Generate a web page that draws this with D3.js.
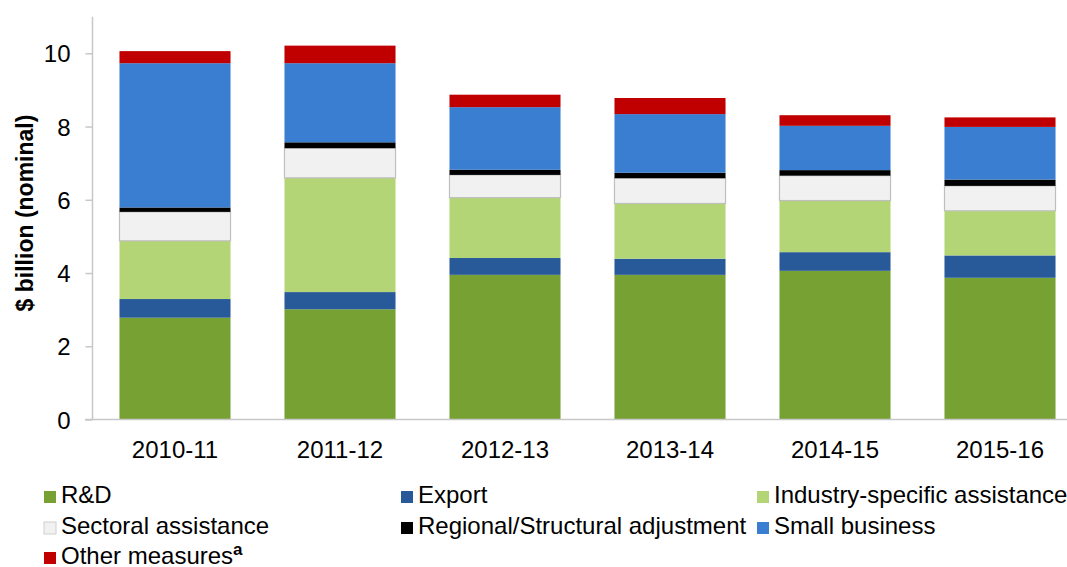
<!DOCTYPE html>
<html lang="en">
<head>
    <meta charset="UTF-8">
    <title>Industry assistance</title>
    <script src="https://d3js.org/d3.v7.min.js"></script>
    <style>
        body { margin: 0; background: #fff; }
        text { font-family: "Liberation Sans", Arial, sans-serif; fill: #000; }
    </style>
</head>
<body>
<script>

    // Categories and series (values in $ billion)
    var years = ["2010-11", "2011-12", "2012-13", "2013-14", "2014-15", "2015-16"];
    var seriesNames = ["R&D", "Export", "Industry-specific assistance", "Sectoral assistance",
                       "Regional/Structural adjustment", "Small business", "Other measures"];

    var rnd       = [2.78, 3.01, 3.95, 3.95, 4.06, 3.87];
    var exportA   = [0.51, 0.47, 0.46, 0.44, 0.51, 0.61];
    var industry  = [1.59, 3.12, 1.65, 1.51, 1.41, 1.22];
    var sectoral  = [0.79, 0.81, 0.62, 0.69, 0.68, 0.68];
    var regional  = [0.12, 0.16, 0.14, 0.15, 0.15, 0.17];
    var smallBiz  = [3.94, 2.16, 1.71, 1.60, 1.21, 1.44];
    var other     = [0.33, 0.48, 0.34, 0.44, 0.29, 0.26];

    var yTicks = [0, 2, 4, 6, 8, 10];

    var colors = ["#77a132", "#285a9a", "#b3d576", "#f1f1f1", "#000000", "#3a7ed1", "#c00000"];

    var seriesValues = [rnd, exportA, industry, sectoral, regional, smallBiz, other];

    // Build rows for d3.stack
    var data = years.map(function(y, i) {
        var row = {year: y};
        seriesNames.forEach(function(s, j) { row[s] = seriesValues[j][i]; });
        return row;
    });

    var width = 1067, height = 567;
    var plot = {left: 92.5, right: 1082.5, top: 16.7, bottom: 419.5};

    var svg = d3.select("body").append("svg")
        .attr("width", width)
        .attr("height", height);

    var x = d3.scaleBand().domain(years).range([plot.left, plot.right]).paddingInner(0.327).paddingOuter(0.1635);
    var y = d3.scaleLinear().domain([0, 11]).range([plot.bottom, plot.top]);

    var stack = d3.stack().keys(seriesNames);
    var layers = stack(data);

    // bars
    svg.append("g").selectAll("g")
        .data(layers)
        .enter().append("g")
        .attr("fill", function(d, i) { return colors[i]; })
        .each(function(layer, i) {
            d3.select(this).selectAll("rect")
                .data(layer)
                .enter().append("rect")
                .attr("x", function(d) { return x(d.data.year); })
                .attr("width", x.bandwidth())
                .attr("y", function(d) { return y(d[1]); })
                .attr("height", function(d) { return y(d[0]) - y(d[1]); })
                .attr("stroke", seriesNames[i] === "Sectoral assistance" ? "#bfbfbf" : "none")
                .attr("stroke-width", 1.2);
        });

    // y axis
    var yAxis = d3.axisLeft(y).tickValues(yTicks).tickSize(7).tickPadding(15);
    var gy = svg.append("g")
        .attr("transform", "translate(" + plot.left + ",0)")
        .call(yAxis);
    gy.select(".domain").attr("stroke", "#c8c8c8").attr("stroke-width", 1.5)
        .attr("d", "M-0," + plot.bottom + "V" + plot.top);
    gy.selectAll(".tick line").attr("stroke", "#c8c8c8").attr("stroke-width", 1.5);
    gy.selectAll(".tick text").style("font-size", "24px").attr("fill", "#000").attr("dy", "0.36em");

    // x axis
    var xAxis = d3.axisBottom(x).tickSize(0).tickPadding(21);
    var gx = svg.append("g")
        .attr("transform", "translate(0," + plot.bottom + ")")
        .call(xAxis);
    gx.select(".domain").attr("stroke", "#c8c8c8").attr("stroke-width", 1.5)
        .attr("d", "M85,0H" + plot.right);
    gx.selectAll(".tick text").style("font-size", "24px").attr("fill", "#000");

    // y title
    svg.append("text")
        .attr("transform", "translate(33,213) rotate(-90)")
        .attr("text-anchor", "middle")
        .style("font-size", "23px")
        .style("font-weight", "bold")
        .text("$ billion (nominal)");

    // legend
    var legendCols = [44, 401, 757];
    var legendRows = [503, 534, 564];
    var legend = svg.append("g").selectAll("g")
        .data(seriesNames)
        .enter().append("g")
        .attr("transform", function(d, i) {
            return "translate(" + legendCols[i % 3] + "," + legendRows[Math.floor(i / 3)] + ")";
        });

    legend.append("rect")
        .attr("x", 0).attr("y", -12)
        .attr("width", 12).attr("height", 12)
        .attr("fill", function(d, i) { return colors[i]; })
        .attr("stroke", function(d) { return d === "Sectoral assistance" ? "#d0d0d0" : "none"; });

    var lt = legend.append("text")
        .attr("x", 17)
        .attr("y", 0)
        .style("font-size", "24px")
        .text(function(d) { return d; });

    lt.filter(function(d) { return d === "Other measures"; })
        .append("tspan")
        .attr("dy", -9)
        .style("font-size", "17px")
        .style("font-weight", "bold")
        .text("a");

</script>
</body>
</html>
